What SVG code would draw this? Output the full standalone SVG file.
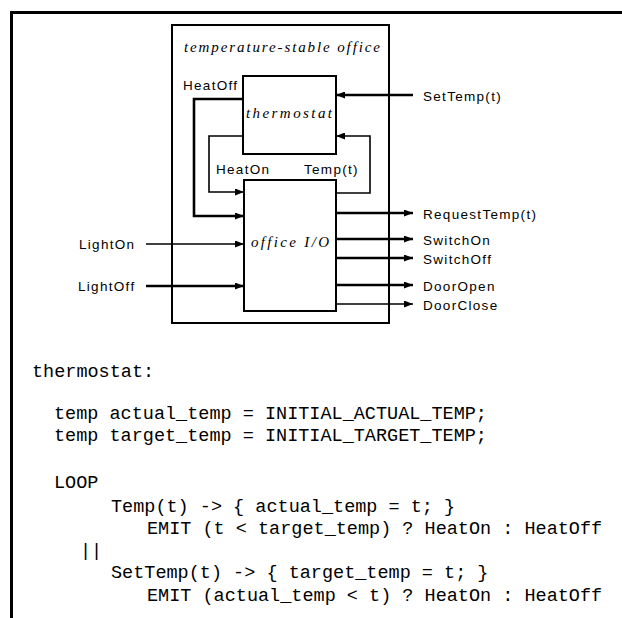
<svg xmlns="http://www.w3.org/2000/svg" width="622" height="618" viewBox="0 0 622 618">
  <style>
    .box { fill: none; stroke: #000; stroke-width: 2; }
    .frame { fill: none; stroke: #000; stroke-width: 3; }
    .wire { fill: none; stroke: #000; stroke-width: 1.6; }
    .wire.heavy { stroke-width: 2.6; }
    .lbl { font-family: "Liberation Sans", Arial, sans-serif; font-size: 13.5px; letter-spacing: 1.3px; fill: #000; }
    .math { font-family: "Liberation Serif", "Times New Roman", serif; font-style: italic; font-size: 15px; fill: #000; }
    .code { font-family: "Liberation Mono", "Courier New", monospace; font-size: 18.5px; fill: #000; white-space: pre; }
  </style>
  <defs>
    <marker id="arrow" markerUnits="userSpaceOnUse" markerWidth="9" markerHeight="7" refX="9" refY="3.5" orient="auto">
      <path d="M0,0 L9,3.5 L0,7 Z" fill="#000"/>
    </marker>
  </defs>

  <rect width="622" height="618" fill="#fff"/>

  <!-- page frame -->
  <path class="frame" d="M11.5,618 V12.5 H622"/>

  <!-- enclosing system -->
  <g id="office-system">
    <rect class="box" x="172" y="25" width="217" height="298"/>
    <text class="math" x="184" y="52" textLength="196" lengthAdjust="spacing">temperature-stable office</text>
  </g>

  <g id="thermostat">
    <rect class="box" x="243" y="76" width="93" height="78"/>
    <text class="math" x="246" y="118" textLength="86" lengthAdjust="spacing">thermostat</text>
  </g>

  <g id="office-io">
    <rect class="box" x="244" y="180" width="92" height="131"/>
    <text class="math" x="251" y="247" textLength="78" lengthAdjust="spacing">office  I/O</text>
  </g>

  <!-- connectors -->
  <g id="connectors">
    <path class="wire heavy" d="M243,99 H194 V216 H244" marker-end="url(#arrow)"/>
    <path class="wire" d="M243,136 H209 V192 H244" marker-end="url(#arrow)"/>
    <path class="wire" d="M336,193 H370 V136 H336" marker-end="url(#arrow)"/>
    <path class="wire heavy" d="M413,95 H336" marker-end="url(#arrow)"/>
    <path class="wire" d="M146,244 H244" marker-end="url(#arrow)"/>
    <path class="wire heavy" d="M146,286 H244" marker-end="url(#arrow)"/>
    <path class="wire heavy" d="M336,213 H413" marker-end="url(#arrow)"/>
    <path class="wire heavy" d="M336,239 H413" marker-end="url(#arrow)"/>
    <path class="wire heavy" d="M336,258 H413" marker-end="url(#arrow)"/>
    <path class="wire heavy" d="M336,285 H413" marker-end="url(#arrow)"/>
    <path class="wire" d="M336,304 H413" marker-end="url(#arrow)"/>
  </g>

  <!-- signal labels -->
  <g id="labels">
    <text class="lbl" x="183" y="90">HeatOff</text>
    <text class="lbl" x="216" y="174">HeatOn</text>
    <text class="lbl" x="304" y="174">Temp(t)</text>
    <text class="lbl" x="423" y="101">SetTemp(t)</text>
    <text class="lbl" x="79" y="249">LightOn</text>
    <text class="lbl" x="78" y="291">LightOff</text>
    <text class="lbl" x="423" y="219">RequestTemp(t)</text>
    <text class="lbl" x="423" y="245">SwitchOn</text>
    <text class="lbl" x="423" y="264">SwitchOff</text>
    <text class="lbl" x="423" y="291">DoorOpen</text>
    <text class="lbl" x="423" y="310">DoorClose</text>
  </g>

  <!-- process description -->
  <g id="listing">
    <text class="code" x="32" y="377">thermostat:</text>
    <text class="code" x="54" y="419">temp actual_temp = INITIAL_ACTUAL_TEMP;</text>
    <text class="code" x="54" y="441">temp target_temp = INITIAL_TARGET_TEMP;</text>
    <text class="code" x="54" y="488">LOOP</text>
    <text class="code" x="111" y="512">Temp(t) -&gt; { actual_temp = t; }</text>
    <text class="code" x="147" y="534">EMIT (t &lt; target_temp) ? HeatOn : HeatOff</text>
    <text class="code" x="80" y="556">||</text>
    <text class="code" x="111" y="578">SetTemp(t) -&gt; { target_temp = t; }</text>
    <text class="code" x="147" y="601">EMIT (actual_temp &lt; t) ? HeatOn : HeatOff</text>
  </g>
</svg>
